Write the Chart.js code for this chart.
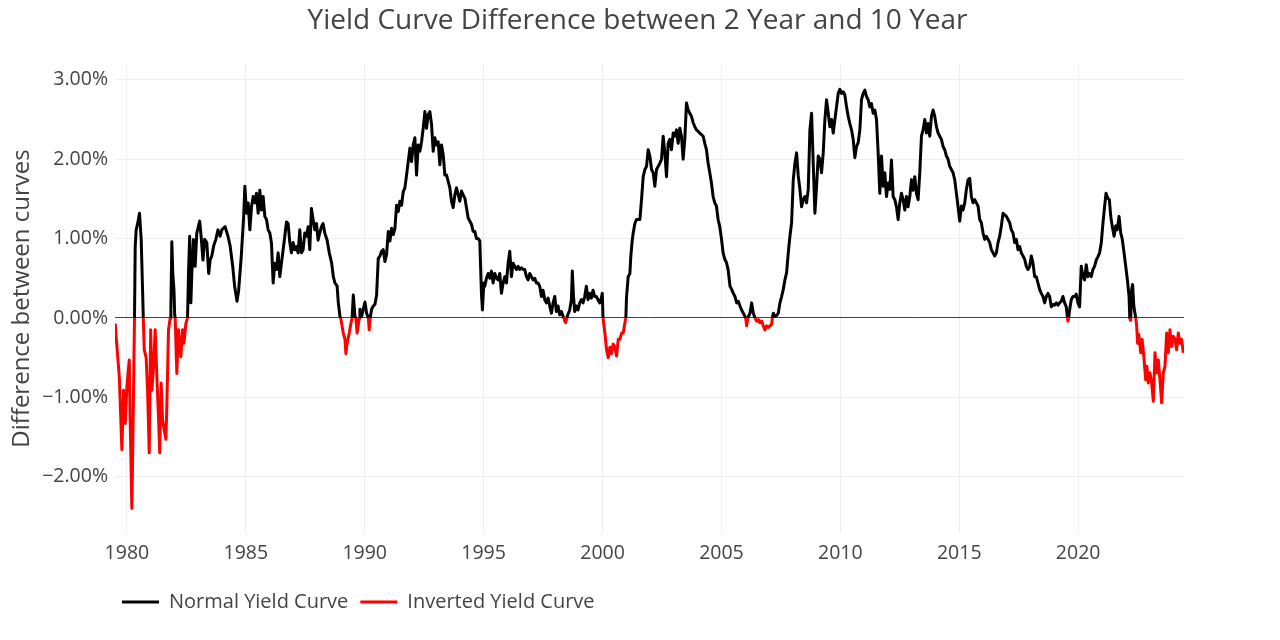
<!DOCTYPE html>
<html>
<head>
<meta charset="utf-8">
<script src="https://cdn.jsdelivr.net/npm/chart.js@4.4.1/dist/chart.umd.min.js"></script>
<style>
  html, body { margin: 0; padding: 0; background: #ffffff; }
  #wrap { width: 1280px; height: 640px; }
</style>
</head>
<body>
<div id="wrap"><canvas id="c" width="1280" height="640"></canvas></div>
<script>
const chartTitle = 'Yield Curve Difference between 2 Year and 10 Year';
const yAxisTitle = 'Difference between curves';
const seriesNames = ['Normal Yield Curve', 'Inverted Yield Curve'];

const dates1979to1990 = [
  1979.51,1979.58,1979.68,1979.79,1979.86,1979.93,1980.00,1980.10,1980.14,1980.21,
  1980.28,1980.32,1980.35,1980.39,1980.46,1980.53,1980.60,1980.66,1980.69,1980.73,
  1980.81,1980.87,1980.94,1981.00,1981.05,1981.12,1981.19,1981.26,1981.33,1981.38,
  1981.44,1981.50,1981.57,1981.64,1981.68,1981.75,1981.82,1981.85,1981.89,1981.93,
  1981.98,1982.01,1982.03,1982.10,1982.17,1982.22,1982.27,1982.34,1982.40,1982.48,
  1982.55,1982.59,1982.64,1982.69,1982.73,1982.80,1982.87,1982.94,1983.06,1983.12,
  1983.20,1983.27,1983.36,1983.44,1983.50,1983.57,1983.65,1983.74,1983.83,1983.92,
  1983.99,1984.13,1984.25,1984.34,1984.45,1984.53,1984.63,1984.70,1984.81,1984.91,
  1984.96,
  1985.03,1985.10,1985.17,1985.24,1985.31,1985.38,1985.45,1985.52,1985.59,1985.66,
  1985.73,1985.80,1985.87,1985.94,1986.01,1986.08,1986.15,1986.22,1986.29,1986.36,
  1986.43,1986.50,1986.57,1986.64,1986.71,1986.78,1986.85,1986.92,1986.99,1987.06,
  1987.13,1987.20,1987.27,1987.34,1987.41,1987.48,1987.55,1987.62,1987.69,1987.76,
  1987.83,1987.90,1987.97,1988.04,1988.11,1988.18,1988.25,1988.32,1988.42,1988.51,
  1988.61,1988.68,1988.75,1988.84,1988.89,1988.96,1988.99,1989.10,1989.17,1989.21,
  1989.26,1989.35,1989.42,1989.47,1989.52,1989.59,1989.63,1989.68,1989.74,1989.77,
  1989.80,1989.87,1989.94,1990.01,1990.08,1990.15,1990.19,1990.23,1990.29,1990.36
];
const spread1979to1990 = [
  -0.07,-0.36,-0.74,-1.66,-0.91,-1.33,-0.87,-0.53,-1.33,-2.40,
  -0.91,0,0.90,1.11,1.20,1.32,1.00,0.35,0,-0.40,
  -0.50,-0.91,-1.70,-0.15,-0.91,-0.62,-0.15,-0.74,-1.25,-1.70,
  -0.82,-1.29,-1.41,-1.53,-1.11,-0.15,0,0.12,0.96,0.56,
  0.35,0.04,0,-0.70,-0.15,-0.36,-0.49,-0.15,-0.32,-0.07,
  0,0.56,1.03,0.19,0.56,0.99,0.65,1.07,1.22,1.03,
  0.73,0.99,0.95,0.56,0.73,0.78,0.91,0.99,1.11,1.03,
  1.11,1.15,1.03,0.91,0.65,0.40,0.21,0.35,0.78,1.28,
  1.66,
  1.32,1.45,1.11,1.40,1.53,1.45,1.57,1.32,1.61,1.36,
  1.53,1.28,1.24,1.11,1.07,0.94,0.44,0.69,0.61,0.82,
  0.52,0.69,0.86,1.03,1.21,1.19,0.95,0.82,0.95,0.86,
  0.90,0.82,1.11,0.82,0.86,1.07,1.03,1.15,0.86,1.38,
  1.24,1.11,1.19,0.98,1.07,1.15,1.19,1.07,0.98,0.82,
  0.69,0.52,0.44,0.40,0.19,0.02,0,-0.19,-0.27,-0.45,
  -0.32,-0.19,-0.07,0,0.29,0.02,0,-0.19,-0.07,0,
  0.11,0.02,0.11,0.20,0.06,0,-0.15,0,0.11,0.15
];

const dates1990to2000 = [
  1990.43,1990.50,1990.57,1990.64,1990.71,1990.78,1990.85,1990.92,1990.99,1991.06,
  1991.13,1991.20,1991.27,1991.34,1991.41,1991.48,1991.55,1991.62,1991.69,1991.76,
  1991.83,1991.90,1991.97,1992.04,1992.11,1992.18,1992.25,1992.32,1992.39,1992.46,
  1992.53,1992.60,1992.67,1992.74,1992.81,1992.88,1992.95,1993.02,1993.09,1993.16,
  1993.23,1993.30,1993.37,1993.44,1993.51,1993.58,1993.65,1993.72,1993.79,1993.86,
  1993.93,1994.00,1994.07,1994.14,1994.21,1994.28,1994.35,1994.42,1994.49,1994.56,
  1994.63,1994.70,1994.77,1994.84,1994.91,1994.95,1995.01,1995.05,1995.12,1995.19,
  1995.26,1995.33,1995.40,1995.47,1995.54,1995.61,1995.68,1995.75,1995.82,1995.89,
  1995.96,1996.03,1996.10,1996.17,1996.24,1996.31,1996.38,1996.45,1996.52,1996.59,
  1996.66,1996.73,1996.80,1996.87,1996.94,1997.01,1997.08,1997.15,1997.22,1997.29,
  1997.36,1997.43,1997.50,1997.57,1997.64,1997.71,1997.78,1997.85,1997.92,1997.99,
  1998.06,1998.13,1998.20,1998.27,1998.34,1998.38,1998.41,1998.45,1998.50,1998.54,
  1998.62,1998.69,1998.73,1998.78,1998.83,1998.90,1998.97,1999.04,1999.11,1999.18,
  1999.25,1999.32,1999.39,1999.46,1999.53,1999.60,1999.67,1999.74,1999.81,1999.88,
  1999.95,1999.99,2000.02
];
const spread1990to2000 = [
  0.17,0.29,0.75,0.78,0.84,0.86,0.71,0.80,1.09,0.97,
  1.13,1.05,1.13,1.42,1.34,1.47,1.42,1.59,1.64,1.80,
  1.97,2.14,1.97,2.18,2.27,1.80,2.18,2.10,2.22,2.39,
  2.60,2.39,2.56,2.60,2.44,2.10,2.27,2.18,2.22,1.93,
  2.18,2.06,1.80,1.80,1.72,1.64,1.47,1.39,1.55,1.64,
  1.55,1.47,1.60,1.55,1.51,1.39,1.26,1.22,1.18,1.09,
  1.09,1.00,1.00,0.97,0.30,0.10,0.44,0.40,0.50,0.56,
  0.50,0.59,0.44,0.56,0.50,0.48,0.56,0.31,0.44,0.52,
  0.44,0.69,0.84,0.52,0.69,0.65,0.61,0.65,0.61,0.63,
  0.61,0.61,0.52,0.48,0.56,0.52,0.48,0.50,0.44,0.44,
  0.40,0.27,0.35,0.23,0.19,0.25,0.15,0.06,0.19,0.27,
  0.08,0.15,0.04,0.08,0.02,0,-0.04,-0.06,0,0.04,
  0.10,0.23,0.59,0.27,0.08,0.15,0.10,0.19,0.23,0.19,
  0.27,0.40,0.23,0.31,0.25,0.35,0.27,0.27,0.23,0.19,
  0.25,0.31,0
];

const dates2000to2009 = [
  2000.10,2000.17,2000.24,2000.31,2000.38,2000.45,2000.52,2000.59,2000.66,2000.73,
  2000.80,2000.87,2000.94,2000.98,2001.01,2001.08,2001.15,2001.19,2001.25,2001.29,
  2001.36,2001.43,2001.50,2001.57,2001.64,2001.71,2001.78,2001.85,2001.92,2001.99,
  2002.06,2002.13,2002.20,2002.27,2002.34,2002.41,2002.48,2002.55,2002.62,2002.69,
  2002.76,2002.83,2002.90,2002.97,2003.04,2003.11,2003.18,2003.25,2003.32,2003.39,
  2003.46,2003.53,2003.60,2003.67,2003.74,2003.81,2003.88,2003.95,2004.02,2004.09,
  2004.16,2004.23,2004.30,2004.37,2004.44,2004.51,2004.58,2004.65,2004.72,2004.79,
  2004.86,2004.93,2005.00,2005.07,2005.14,2005.21,2005.28,2005.36,2005.43,2005.50,
  2005.57,2005.64,2005.71,2005.78,2005.85,2005.92,2005.99,2006.02,2006.06,2006.11,
  2006.20,2006.27,2006.34,2006.41,2006.48,2006.55,2006.62,2006.69,2006.76,2006.83,
  2006.90,2006.97,2007.04,2007.11,2007.14,2007.18,2007.25,2007.32,2007.39,2007.46,
  2007.53,2007.60,2007.67,2007.74,2007.81,2007.88,2007.95,2008.02,2008.09,2008.16,
  2008.23,2008.30,2008.37,2008.44,2008.51,2008.58,2008.65,2008.72,2008.79,2008.86,
  2008.93,2009.00,2009.07,2009.14,2009.21,2009.28,2009.35,2009.42,2009.49,2009.56
];
const spread2000to2009 = [
  -0.19,-0.40,-0.50,-0.37,-0.45,-0.33,-0.37,-0.48,-0.27,-0.27,
  -0.19,-0.19,-0.06,0,0.27,0.52,0.56,0.78,0.98,1.07,
  1.19,1.24,1.24,1.24,1.49,1.78,1.87,1.91,2.12,2.04,
  1.87,1.83,1.66,1.87,1.91,1.95,2.00,2.29,2.08,1.78,
  2.20,2.25,2.12,2.33,2.29,2.37,2.20,2.39,2.29,2.00,
  2.25,2.71,2.62,2.58,2.54,2.46,2.41,2.37,2.35,2.33,
  2.31,2.29,2.20,2.12,1.95,1.83,1.70,1.53,1.45,1.41,
  1.24,1.15,1.00,0.82,0.74,0.70,0.61,0.40,0.36,0.31,
  0.27,0.19,0.21,0.15,0.10,0.06,0.02,0,-0.10,0,
  0.06,0.19,0.06,0,-0.04,-0.02,-0.06,-0.04,-0.10,-0.15,
  -0.10,-0.12,-0.10,-0.08,0,0.06,0.02,0.03,0.06,0.19,
  0.27,0.36,0.48,0.57,0.82,1.03,1.20,1.74,1.95,2.08,
  1.79,1.62,1.40,1.49,1.53,1.45,1.62,2.37,2.58,1.95,
  1.32,1.66,2.04,2.00,1.83,2.08,2.50,2.75,2.58,2.41
];

const dates2009to2019 = [
  2009.63,2009.70,2009.77,2009.84,2009.91,2009.98,2010.05,2010.12,2010.19,2010.26,
  2010.33,2010.40,2010.47,2010.54,2010.61,2010.68,2010.75,2010.82,2010.89,2010.96,
  2011.03,2011.10,2011.17,2011.24,2011.31,2011.38,2011.45,2011.52,2011.59,2011.66,
  2011.73,2011.80,2011.87,2011.94,2012.01,2012.08,2012.15,2012.22,2012.29,2012.36,
  2012.43,2012.50,2012.57,2012.64,2012.71,2012.78,2012.85,2012.92,2012.99,2013.06,
  2013.13,2013.20,2013.27,2013.34,2013.41,2013.48,2013.55,2013.62,2013.69,2013.76,
  2013.83,2013.90,2013.97,2014.04,2014.11,2014.18,2014.25,2014.32,2014.39,2014.46,
  2014.53,2014.60,2014.67,2014.74,2014.81,2014.88,2014.95,2015.02,2015.09,2015.16,
  2015.23,2015.30,2015.37,2015.44,2015.51,2015.58,2015.65,2015.72,2015.79,2015.86,
  2015.93,2016.00,2016.07,2016.14,2016.21,2016.28,2016.35,2016.42,2016.49,2016.56,
  2016.63,2016.70,2016.77,2016.84,2016.91,2016.98,2017.05,2017.12,2017.19,2017.26,
  2017.33,2017.40,2017.47,2017.54,2017.61,2017.68,2017.75,2017.82,2017.89,2017.96,
  2018.03,2018.10,2018.17,2018.24,2018.31,2018.38,2018.45,2018.52,2018.59,2018.66,
  2018.73,2018.80,2018.87,2018.94,2019.01,2019.08,2019.15,2019.22,2019.29,2019.36,
  2019.43,2019.50,2019.55,2019.57,2019.60,2019.64,2019.71,2019.78,2019.85,2019.92
];
const spread2009to2019 = [
  2.50,2.33,2.50,2.66,2.83,2.88,2.83,2.85,2.81,2.66,
  2.54,2.45,2.37,2.25,2.02,2.16,2.21,2.37,2.75,2.83,
  2.87,2.79,2.75,2.66,2.70,2.58,2.62,2.50,2.08,1.57,
  2.04,1.66,1.83,1.53,1.70,1.62,1.99,1.53,1.49,1.40,
  1.24,1.45,1.57,1.49,1.36,1.53,1.40,1.53,1.74,1.61,
  1.78,1.57,1.49,1.83,2.29,2.37,2.50,2.33,2.45,2.29,
  2.54,2.62,2.54,2.41,2.33,2.29,2.25,2.16,2.12,2.04,
  2.00,1.91,1.87,1.83,1.74,1.57,1.40,1.22,1.41,1.36,
  1.45,1.62,1.74,1.76,1.53,1.45,1.49,1.45,1.41,1.24,
  1.20,1.07,0.99,1.03,0.99,0.95,0.86,0.82,0.78,0.82,
  0.95,1.03,1.16,1.32,1.30,1.28,1.24,1.20,1.11,1.07,
  0.95,0.99,0.86,0.90,0.82,0.78,0.74,0.65,0.61,0.65,
  0.78,0.69,0.52,0.52,0.44,0.36,0.31,0.27,0.19,0.27,
  0.31,0.27,0.14,0.17,0.16,0.19,0.16,0.19,0.21,0.27,
  0.19,0.14,0,-0.04,0,0.10,0.23,0.27,0.27,0.30
];

const dates2019to2024 = [
  2019.99,2020.06,2020.13,2020.20,2020.27,2020.34,2020.41,2020.48,2020.55,2020.62,
  2020.69,2020.76,2020.83,2020.90,2020.97,2021.04,2021.11,2021.17,2021.24,2021.31,
  2021.37,2021.43,2021.51,2021.58,2021.64,2021.72,2021.79,2021.85,2021.93,2022.00,
  2022.07,2022.14,2022.17,2022.19,2022.21,2022.25,2022.29,2022.34,2022.42,2022.46,
  2022.50,2022.55,2022.63,2022.69,2022.76,2022.84,2022.89,2022.95,2023.02,2023.09,
  2023.16,2023.23,2023.30,2023.37,2023.44,2023.51,2023.58,2023.65,2023.72,2023.79,
  2023.86,2023.93,2024.00,2024.07,2024.14,2024.21,2024.28,2024.35,2024.42
];
const spread2019to2024 = [
  0.19,0.14,0.65,0.52,0.48,0.67,0.52,0.56,0.52,0.61,
  0.65,0.73,0.77,0.82,0.94,1.19,1.40,1.57,1.51,1.49,
  1.28,1.16,1.03,1.16,1.11,1.28,1.07,1.00,0.82,0.65,
  0.48,0.27,0,-0.03,0,0.36,0.42,0.15,0,-0.10,
  -0.32,-0.21,-0.44,-0.27,-0.48,-0.78,-0.61,-0.82,-0.69,-0.82,
  -1.05,-0.44,-0.69,-0.53,-0.78,-1.07,-0.69,-0.61,-0.19,-0.44,
  -0.15,-0.36,-0.23,-0.27,-0.40,-0.19,-0.32,-0.27,-0.44
];

const xTickValues = [1980, 1985, 1990, 1995, 2000, 2005, 2010, 2015, 2020];
const xTickLabels = ['1980', '1985', '1990', '1995', '2000', '2005', '2010', '2015', '2020'];
const yTickValues = [-2, -1, 0, 1, 2, 3];
const yTickLabels = ['\u22122.00%', '\u22121.00%', '0.00%', '1.00%', '2.00%', '3.00%'];

const dates = [].concat(dates1979to1990, dates1990to2000, dates2000to2009, dates2009to2019, dates2019to2024);
const spread = [].concat(spread1979to1990, spread1990to2000, spread2000to2009, spread2009to2019, spread2019to2024);
if (dates.length !== spread.length) {
  console.error('length mismatch', dates.length, spread.length);
}

// A value of exactly 0 marks a crossing and belongs to both series.
const normalPoints = dates.map((d, i) => ({ x: d, y: spread[i] >= 0 ? spread[i] : null }));
const invertedPoints = dates.map((d, i) => ({ x: d, y: spread[i] <= 0 ? spread[i] : null }));

Chart.defaults.font.family = "'Open Sans', 'DejaVu Sans', sans-serif";
Chart.defaults.color = '#444444';

const boxPlacement = {
  id: 'boxPlacement',
  afterLayout(chart) {
    if (chart.legend) {
      chart.legend.left = 110;
    }
    if (chart.titleBlock) {
      chart.titleBlock.left = 0;
      chart.titleBlock.right = 1275;
      chart.titleBlock.width = 1275;
    }
  }
};

new Chart(document.getElementById('c'), {
  type: 'line',
  data: {
    datasets: [
      {
        label: seriesNames[0],
        data: normalPoints,
        borderColor: '#000000',
        backgroundColor: '#000000',
        borderWidth: 3,
        borderJoinStyle: 'round',
        spanGaps: false,
        order: 2
      },
      {
        label: seriesNames[1],
        data: invertedPoints,
        borderColor: '#ff0000',
        backgroundColor: '#ff0000',
        borderWidth: 3,
        borderJoinStyle: 'round',
        spanGaps: false,
        order: 1
      }
    ]
  },
  plugins: [boxPlacement],
  options: {
    responsive: false,
    animation: false,
    devicePixelRatio: 1,
    layout: { padding: { left: 0, right: 96, top: 0, bottom: 18 } },
    elements: { point: { radius: 0, hoverRadius: 0 }, line: { tension: 0 } },
    plugins: {
      title: {
        display: true,
        text: chartTitle,
        color: '#444444',
        font: { size: 28, weight: 'normal' },
        padding: { top: 4, bottom: 26.4 }
      },
      legend: {
        position: 'bottom',
        align: 'start',
        labels: {
          boxWidth: 37,
          boxHeight: 3,
          padding: 12,
          color: '#444444',
          font: { size: 20 },
          generateLabels: (chart) => chart.data.datasets.map((d, i) => ({
            text: d.label,
            fillStyle: d.borderColor,
            strokeStyle: d.borderColor,
            lineWidth: 0,
            hidden: false,
            datasetIndex: i,
            fontColor: '#444444'
          }))
        }
      },
      tooltip: { enabled: false }
    },
    scales: {
      x: {
        type: 'linear',
        min: 1979.50,
        max: 2024.45,
        afterBuildTicks: (scale) => { scale.ticks = xTickValues.map(v => ({ value: v })); },
        afterFit: (scale) => { scale.height = 47; },
        grid: { color: '#eeeeee', lineWidth: 1, drawTicks: false },
        border: { display: false },
        ticks: {
          padding: 9,
          font: { size: 19.5 },
          color: '#444444',
          maxRotation: 0,
          autoSkip: false,
          callback: (v) => { const i = xTickValues.indexOf(v); return i >= 0 ? xTickLabels[i] : ''; }
        }
      },
      y: {
        type: 'linear',
        min: -2.71,
        max: 3.2,
        afterBuildTicks: (scale) => { scale.ticks = yTickValues.map(v => ({ value: v })); },
        afterFit: (scale) => { scale.width = 115; },
        grid: {
          color: (ctx) => (ctx.tick && ctx.tick.value === 0) ? '#444444' : '#eeeeee',
          lineWidth: 1,
          drawTicks: false
        },
        border: { display: false },
        ticks: {
          padding: 7,
          font: { size: 19.5 },
          color: '#444444',
          callback: (v) => { const i = yTickValues.indexOf(v); return i >= 0 ? yTickLabels[i] : ''; }
        },
        title: {
          display: true,
          text: yAxisTitle,
          color: '#444444',
          font: { size: 24 },
          padding: { top: 8, bottom: 0 }
        }
      }
    }
  }
});
</script>
</body>
</html>
